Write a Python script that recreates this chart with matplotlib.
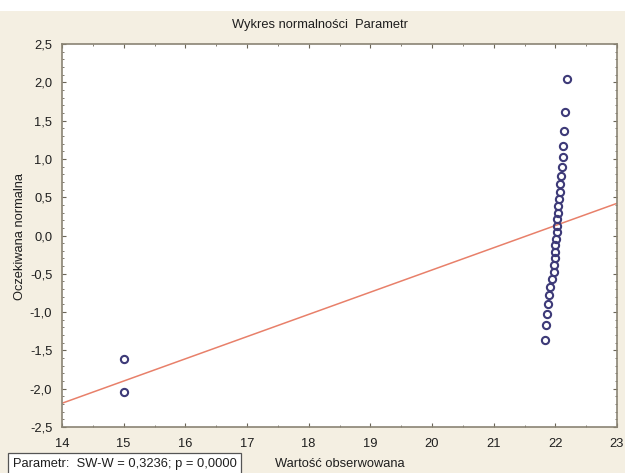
import matplotlib

matplotlib.use("Agg")

import matplotlib.pyplot as plt
from matplotlib.patches import Rectangle
from matplotlib.ticker import FuncFormatter, MultipleLocator

observed = [15.0, 15.0, 21.83, 21.85, 21.87, 21.88, 21.90, 21.91, 21.95, 21.98,
            21.98, 21.99, 22.00, 22.00, 22.01, 22.02, 22.02, 22.03, 22.04, 22.05,
            22.06, 22.07, 22.08, 22.09, 22.10, 22.12, 22.13, 22.14, 22.16, 22.19]
expected = [-2.04, -1.61, -1.36, -1.17, -1.02, -0.89, -0.78, -0.67, -0.57, -0.47,
            -0.38, -0.29, -0.21, -0.13, -0.04, 0.04, 0.13, 0.21, 0.29, 0.38,
            0.47, 0.57, 0.67, 0.78, 0.89, 1.02, 1.17, 1.36, 1.61, 2.04]

# reference line endpoints
line_x = [14, 23]
line_y = [-2.19, 0.42]

BG = "#f4efe2"
W, H, DPI = 625, 473, 100
FS = 9.3

plt.rcParams["font.family"] = ["Liberation Sans", "DejaVu Sans"]

fig = plt.figure(figsize=(W / DPI, H / DPI), dpi=DPI)
fig.patch.set_facecolor(BG)
# white strip along the top of the scan
fig.patches.append(Rectangle((0, 1 - 11 / H), 1, 11 / H, transform=fig.transFigure,
                             facecolor="white", edgecolor="none", zorder=0))

ax = fig.add_axes([62 / W, 1 - 427 / H, (617 - 62) / W, (427 - 44) / H])
ax.set_facecolor("white")

ax.plot(line_x, line_y, color="#e8806a", linewidth=1.1, zorder=2)
ax.plot(observed, expected, linestyle="none", marker="o", markersize=5.2,
        markerfacecolor="none", markeredgecolor="#3d3a78", markeredgewidth=1.5, zorder=3)

ax.set_xlim(14, 23)
ax.set_ylim(-2.5, 2.5)
ax.xaxis.set_major_locator(MultipleLocator(1))
ax.xaxis.set_minor_locator(MultipleLocator(0.5))
ax.yaxis.set_major_locator(MultipleLocator(0.5))
ax.yaxis.set_minor_locator(MultipleLocator(0.1))
ax.yaxis.set_major_formatter(FuncFormatter(lambda v, _: f"{v:.1f}".replace(".", ",")))

ax.tick_params(which="both", direction="in", top=True, right=True, colors="#6b6558",
               labelcolor="#1e1e1e", labelsize=FS)
ax.tick_params(which="major", length=3)
ax.tick_params(which="minor", length=1.5)
ax.tick_params(axis="x", pad=8)
ax.tick_params(axis="y", pad=7)
for s in ax.spines.values():
    s.set_color("#8a8474")
    s.set_linewidth(1.2)

fig.text(320 / W, 1 - 25 / H, "Wykres normalności  Parametr", ha="center", va="center",
         fontsize=FS, color="#1e1e1e")
fig.text(20 / W, 1 - 237 / H, "Oczekiwana normalna", rotation=90, ha="center",
         va="center", fontsize=FS, color="#1e1e1e")
fig.text(275 / W, 1 - 464 / H, "Wartość obserwowana", ha="left", va="center",
         fontsize=FS, color="#1e1e1e")
fig.text(13 / W, 1 - 464 / H, "Parametr:  SW-W = 0,3236; p = 0,0000", ha="left",
         va="center", fontsize=FS, color="#1e1e1e",
         bbox=dict(boxstyle="square,pad=0.35", facecolor="white", edgecolor="#555555",
                   linewidth=0.9))

fig.savefig("out.png", dpi=DPI, facecolor=fig.get_facecolor())
